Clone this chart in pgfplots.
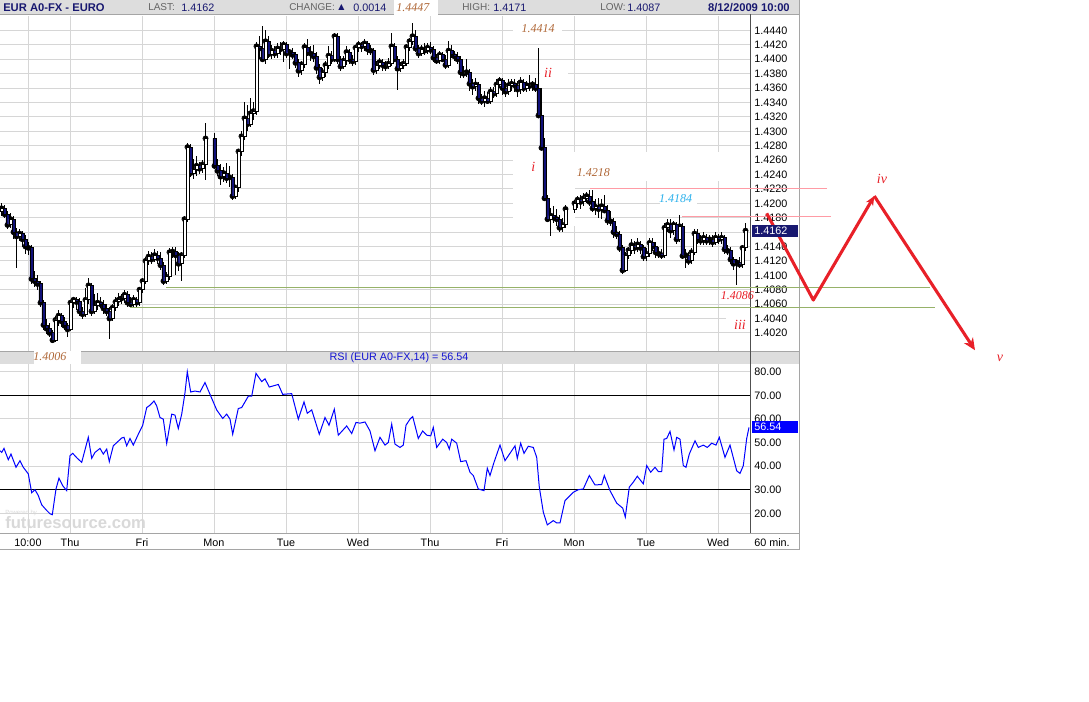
\documentclass[border=0pt]{standalone}
\usepackage{fontspec}
\setmainfont{Liberation Sans}
\newfontfamily\annfont{Liberation Serif}
\newfontfamily\symfont{DejaVu Sans}
\usepackage{pgfplots}
\pgfplotsset{compat=1.18}
\usepackage{pgfplotstable}
\usetikzlibrary{arrows.meta}

\definecolor{gridc}{RGB}{214,214,214}
\definecolor{cnavy}{RGB}{16,16,120}
\definecolor{hnavy}{RGB}{24,24,112}
\definecolor{hgray}{RGB}{100,100,100}
\definecolor{band}{RGB}{221,221,221}
\definecolor{bordc}{RGB}{165,165,165}
\definecolor{axisc}{RGB}{80,80,80}
\definecolor{rsib}{RGB}{0,0,255}
\definecolor{rsitxt}{RGB}{20,20,210}
\definecolor{pinkl}{RGB}{255,155,165}
\definecolor{greenl}{RGB}{150,178,105}
\definecolor{wred}{RGB}{232,32,40}
\definecolor{annb}{RGB}{176,104,56}
\definecolor{annc}{RGB}{40,176,236}

\newcommand{\tf}{\fontsize{8.1}{9.5}\selectfont}
\newcommand{\hf}{\fontsize{7.5}{9}\selectfont}
\newcommand{\af}{\annfont\itshape\fontsize{9}{10}\selectfont}
\newcommand{\rf}{\annfont\itshape\fontsize{10.5}{11}\selectfont}

% hourly EUR/USD candles, x = pixel column of the candle centre
\pgfplotstableread{
x o h l c
1.5 1.4188 1.4200 1.4182 1.4193
4.5 1.4193 1.4198 1.4180 1.4185
7.5 1.4185 1.4190 1.4164 1.4170
10.5 1.4170 1.4186 1.4166 1.4178
13.5 1.4178 1.4182 1.4150 1.4160
16.5 1.4160 1.4166 1.4110 1.4154
19.5 1.4154 1.4164 1.4148 1.4158
22.5 1.4158 1.4162 1.4140 1.4150
25.5 1.4150 1.4156 1.4130 1.4140
28.5 1.4140 1.4146 1.4128 1.4138
31.5 1.4138 1.4142 1.4088 1.4095
34.5 1.4095 1.4106 1.4084 1.4092
37.5 1.4092 1.4100 1.4080 1.4088
40.5 1.4088 1.4092 1.4056 1.4062
43.5 1.4062 1.4066 1.4024 1.4031
46.5 1.4031 1.4040 1.4018 1.4026
49.5 1.4026 1.4034 1.4014 1.4020
52.5 1.4020 1.4024 1.4006 1.4010
55.5 1.4010 1.4044 1.4008 1.4038
58.5 1.4038 1.4052 1.4030 1.4044
61.5 1.4044 1.4048 1.4028 1.4036
64.5 1.4036 1.4042 1.4024 1.4030
67.5 1.4030 1.4034 1.4014 1.4025
70.5 1.4025 1.4066 1.4022 1.4062
73.5 1.4062 1.4070 1.4054 1.4066
76.5 1.4066 1.4070 1.4052 1.4063
79.5 1.4063 1.4068 1.4044 1.4050
82.5 1.4050 1.4056 1.4040 1.4046
85.5 1.4046 1.4082 1.4042 1.4066
88.5 1.4066 1.4096 1.4060 1.4086
91.5 1.4086 1.4090 1.4044 1.4050
94.5 1.4050 1.4074 1.4046 1.4058
97.5 1.4058 1.4076 1.4052 1.4062
100.5 1.4062 1.4070 1.4054 1.4060
103.5 1.4060 1.4066 1.4046 1.4054
106.5 1.4054 1.4060 1.4044 1.4050
109.5 1.4050 1.4056 1.4012 1.4040
112.5 1.4040 1.4060 1.4036 1.4055
115.5 1.4055 1.4070 1.4050 1.4063
118.5 1.4063 1.4076 1.4058 1.4066
121.5 1.4066 1.4074 1.4060 1.4068
124.5 1.4068 1.4080 1.4062 1.4073
127.5 1.4073 1.4078 1.4056 1.4062
130.5 1.4062 1.4070 1.4056 1.4060
133.5 1.4060 1.4072 1.4054 1.4066
136.5 1.4066 1.4070 1.4056 1.4062
139.5 1.4062 1.4084 1.4058 1.4080
142.5 1.4080 1.4096 1.4076 1.4092
145.5 1.4092 1.4126 1.4088 1.4120
148.5 1.4120 1.4134 1.4114 1.4126
151.5 1.4126 1.4132 1.4116 1.4122
154.5 1.4122 1.4136 1.4118 1.4128
157.5 1.4128 1.4134 1.4116 1.4124
160.5 1.4124 1.4132 1.4108 1.4114
163.5 1.4114 1.4118 1.4086 1.4092
166.5 1.4092 1.4104 1.4088 1.4098
169.5 1.4098 1.4138 1.4094 1.4132
172.5 1.4132 1.4140 1.4124 1.4133
175.5 1.4133 1.4140 1.4100 1.4128
178.5 1.4128 1.4132 1.4106 1.4116
181.5 1.4116 1.4132 1.4092 1.4128
184.5 1.4128 1.4182 1.4124 1.4178
187.5 1.4178 1.4284 1.4174 1.4278
190.5 1.4278 1.4282 1.4236 1.4242
193.5 1.4242 1.4262 1.4234 1.4247
196.5 1.4247 1.4266 1.4238 1.4252
199.5 1.4252 1.4258 1.4240 1.4248
202.5 1.4248 1.4260 1.4242 1.4254
205.5 1.4254 1.4311 1.4232 1.4290
214.5 1.4290 1.4298 1.4248 1.4252
217.5 1.4252 1.4262 1.4238 1.4245
220.5 1.4245 1.4254 1.4226 1.4237
223.5 1.4237 1.4250 1.4230 1.4242
226.5 1.4242 1.4256 1.4228 1.4235
229.5 1.4235 1.4252 1.4222 1.4236
232.5 1.4236 1.4240 1.4204 1.4210
235.5 1.4210 1.4226 1.4206 1.4222
238.5 1.4222 1.4276 1.4216 1.4272
241.5 1.4272 1.4300 1.4266 1.4293
244.5 1.4293 1.4340 1.4288 1.4318
247.5 1.4318 1.4336 1.4300 1.4310
250.5 1.4310 1.4346 1.4306 1.4325
253.5 1.4325 1.4340 1.4316 1.4328
256.5 1.4328 1.4424 1.4322 1.4418
259.5 1.4418 1.4432 1.4400 1.4415
262.5 1.4415 1.4446 1.4396 1.4400
265.5 1.4400 1.4440 1.4394 1.4425
268.5 1.4425 1.4432 1.4402 1.4407
271.5 1.4407 1.4420 1.4400 1.4412
274.5 1.4412 1.4418 1.4402 1.4408
277.5 1.4408 1.4422 1.4402 1.4415
280.5 1.4415 1.4424 1.4406 1.4414
283.5 1.4414 1.4426 1.4396 1.4420
286.5 1.4420 1.4424 1.4402 1.4408
289.5 1.4408 1.4414 1.4386 1.4410
292.5 1.4410 1.4416 1.4400 1.4406
295.5 1.4406 1.4410 1.4388 1.4395
298.5 1.4395 1.4400 1.4376 1.4384
301.5 1.4384 1.4398 1.4378 1.4393
304.5 1.4393 1.4422 1.4388 1.4417
307.5 1.4417 1.4428 1.4404 1.4410
310.5 1.4410 1.4418 1.4398 1.4408
313.5 1.4408 1.4420 1.4396 1.4404
316.5 1.4404 1.4410 1.4380 1.4388
319.5 1.4388 1.4394 1.4366 1.4375
322.5 1.4375 1.4388 1.4370 1.4382
325.5 1.4382 1.4398 1.4376 1.4392
328.5 1.4392 1.4418 1.4386 1.4405
331.5 1.4405 1.4412 1.4394 1.4400
334.5 1.4400 1.4436 1.4396 1.4432
337.5 1.4432 1.4436 1.4394 1.4400
340.5 1.4400 1.4404 1.4384 1.4390
343.5 1.4390 1.4404 1.4386 1.4398
346.5 1.4398 1.4418 1.4392 1.4410
349.5 1.4410 1.4414 1.4394 1.4400
352.5 1.4400 1.4406 1.4390 1.4397
355.5 1.4397 1.4420 1.4392 1.4416
358.5 1.4416 1.4426 1.4410 1.4420
361.5 1.4420 1.4424 1.4410 1.4418
364.5 1.4418 1.4428 1.4412 1.4422
367.5 1.4422 1.4426 1.4406 1.4414
370.5 1.4414 1.4420 1.4406 1.4412
373.5 1.4412 1.4416 1.4378 1.4385
376.5 1.4385 1.4398 1.4380 1.4392
379.5 1.4392 1.4402 1.4386 1.4396
382.5 1.4396 1.4400 1.4384 1.4392
385.5 1.4392 1.4398 1.4384 1.4390
388.5 1.4390 1.4402 1.4386 1.4394
391.5 1.4394 1.4436 1.4390 1.4418
394.5 1.4418 1.4422 1.4396 1.4400
397.5 1.4400 1.4404 1.4357 1.4387
400.5 1.4387 1.4396 1.4382 1.4392
403.5 1.4392 1.4400 1.4386 1.4394
406.5 1.4394 1.4420 1.4390 1.4417
409.5 1.4417 1.4430 1.4412 1.4425
412.5 1.4425 1.4451 1.4420 1.4432
415.5 1.4432 1.4440 1.4410 1.4415
418.5 1.4415 1.4420 1.4402 1.4408
421.5 1.4408 1.4420 1.4404 1.4414
424.5 1.4414 1.4422 1.4406 1.4412
427.5 1.4412 1.4422 1.4408 1.4416
430.5 1.4416 1.4424 1.4408 1.4413
433.5 1.4413 1.4418 1.4396 1.4402
436.5 1.4402 1.4408 1.4394 1.4398
439.5 1.4398 1.4412 1.4394 1.4406
442.5 1.4406 1.4410 1.4396 1.4400
445.5 1.4400 1.4406 1.4386 1.4392
448.5 1.4392 1.4426 1.4388 1.4412
451.5 1.4412 1.4420 1.4402 1.4406
454.5 1.4406 1.4412 1.4398 1.4404
457.5 1.4404 1.4410 1.4394 1.4400
460.5 1.4400 1.4404 1.4374 1.4382
463.5 1.4382 1.4390 1.4374 1.4380
466.5 1.4380 1.4400 1.4376 1.4382
469.5 1.4382 1.4386 1.4356 1.4366
472.5 1.4366 1.4372 1.4350 1.4362
475.5 1.4362 1.4374 1.4356 1.4365
478.5 1.4365 1.4368 1.4338 1.4346
481.5 1.4346 1.4352 1.4336 1.4342
484.5 1.4342 1.4356 1.4334 1.4346
487.5 1.4346 1.4354 1.4338 1.4342
490.5 1.4342 1.4362 1.4338 1.4355
493.5 1.4355 1.4362 1.4346 1.4352
496.5 1.4352 1.4372 1.4348 1.4365
499.5 1.4365 1.4376 1.4360 1.4370
502.5 1.4370 1.4374 1.4350 1.4360
505.5 1.4360 1.4368 1.4348 1.4355
508.5 1.4355 1.4372 1.4350 1.4364
511.5 1.4364 1.4372 1.4356 1.4366
514.5 1.4366 1.4372 1.4354 1.4364
517.5 1.4364 1.4370 1.4348 1.4358
520.5 1.4358 1.4376 1.4352 1.4368
523.5 1.4368 1.4372 1.4354 1.4360
526.5 1.4360 1.4370 1.4354 1.4364
529.5 1.4364 1.4378 1.4356 1.4363
532.5 1.4363 1.4370 1.4356 1.4365
535.5 1.4365 1.4374 1.4354 1.4360
538.5 1.4360 1.4416 1.4320 1.4322
541.5 1.4322 1.4360 1.4274 1.4277
544.5 1.4277 1.4290 1.4204 1.4207
547.5 1.4207 1.4212 1.4174 1.4178
550.5 1.4178 1.4194 1.4154 1.4183
553.5 1.4183 1.4196 1.4172 1.4180
556.5 1.4180 1.4192 1.4168 1.4178
559.5 1.4178 1.4184 1.4160 1.4166
562.5 1.4166 1.4180 1.4160 1.4170
565.5 1.4170 1.4198 1.4166 1.4192
574.5 1.4192 1.4204 1.4186 1.4200
577.5 1.4200 1.4210 1.4194 1.4205
580.5 1.4205 1.4212 1.4192 1.4202
583.5 1.4202 1.4214 1.4196 1.4207
586.5 1.4207 1.4216 1.4200 1.4210
589.5 1.4210 1.4218 1.4196 1.4202
592.5 1.4202 1.4218 1.4188 1.4193
595.5 1.4193 1.4206 1.4184 1.4195
598.5 1.4195 1.4208 1.4180 1.4192
601.5 1.4192 1.4206 1.4178 1.4196
604.5 1.4196 1.4212 1.4186 1.4190
607.5 1.4190 1.4198 1.4170 1.4176
610.5 1.4176 1.4190 1.4168 1.4175
613.5 1.4175 1.4180 1.4152 1.4160
616.5 1.4160 1.4168 1.4150 1.4157
619.5 1.4157 1.4162 1.4132 1.4138
622.5 1.4138 1.4142 1.4102 1.4107
625.5 1.4107 1.4132 1.4104 1.4128
628.5 1.4128 1.4140 1.4122 1.4135
631.5 1.4135 1.4150 1.4130 1.4142
634.5 1.4142 1.4148 1.4130 1.4138
637.5 1.4138 1.4152 1.4132 1.4143
640.5 1.4143 1.4148 1.4130 1.4138
643.5 1.4138 1.4142 1.4120 1.4126
646.5 1.4126 1.4138 1.4120 1.4130
649.5 1.4130 1.4152 1.4126 1.4145
652.5 1.4145 1.4152 1.4134 1.4140
655.5 1.4140 1.4146 1.4124 1.4132
658.5 1.4132 1.4140 1.4124 1.4130
661.5 1.4130 1.4136 1.4122 1.4128
664.5 1.4128 1.4172 1.4124 1.4166
667.5 1.4166 1.4178 1.4160 1.4170
670.5 1.4170 1.4178 1.4152 1.4162
673.5 1.4162 1.4176 1.4156 1.4170
676.5 1.4170 1.4174 1.4144 1.4150
679.5 1.4150 1.4184 1.4146 1.4168
682.5 1.4168 1.4172 1.4122 1.4127
685.5 1.4127 1.4136 1.4110 1.4128
688.5 1.4128 1.4132 1.4114 1.4120
691.5 1.4120 1.4138 1.4116 1.4132
694.5 1.4132 1.4164 1.4128 1.4158
697.5 1.4158 1.4164 1.4144 1.4150
700.5 1.4150 1.4156 1.4142 1.4148
703.5 1.4148 1.4160 1.4142 1.4152
706.5 1.4152 1.4158 1.4142 1.4148
709.5 1.4148 1.4156 1.4142 1.4150
712.5 1.4150 1.4156 1.4140 1.4146
715.5 1.4146 1.4160 1.4142 1.4152
718.5 1.4152 1.4158 1.4144 1.4150
721.5 1.4150 1.4160 1.4144 1.4152
724.5 1.4152 1.4156 1.4130 1.4136
727.5 1.4136 1.4142 1.4128 1.4134
730.5 1.4134 1.4140 1.4116 1.4122
733.5 1.4122 1.4126 1.4108 1.4116
736.5 1.4116 1.4122 1.4086 1.4118
739.5 1.4118 1.4126 1.4110 1.4115
742.5 1.4115 1.4142 1.4110 1.4138
745.5 1.4138 1.4172 1.4134 1.4162
}\candles

\pgfplotsset{
  pricebox/.style={at={(0pt,-12pt)}, anchor=north west, scale only axis,
    width=562.5pt, height=251.25pt, xmin=0, xmax=750,
    ymin=1.39949, ymax=1.44601, enlargelimits=false},
  daygrid/.style={xtick={28,70,142,214,286,358,430,502,574,646,718}},
}

\begin{document}
\begin{tikzpicture}
\fill[white] (0pt,0pt) rectangle (816.75pt,-526.5pt);
\useasboundingbox (0pt,0pt) rectangle (816.75pt,-526.5pt);

% header bands and watermark
\begin{scope}[x=0.75pt,y=-0.75pt]
  \fill[band] (0,0) rectangle (800,14);
  \draw[bordc] (0,14.5) -- (800,14.5);
  \fill[band] (0,351.5) rectangle (800,364);
  \draw[bordc] (0,351.5) -- (800,351.5);
  \node[anchor=west, inner sep=0pt, font=\fontsize{4.5}{5}\selectfont, text=gray!30] at (5,513) {Powered by};
  \node[anchor=west, inner sep=0pt, font=\bfseries\fontsize{12.5}{13}\selectfont, text=gray!30] at (5,523) {futuresource.com};
\end{scope}

% price panel: grid and scale
\begin{axis}[pricebox, daygrid, xticklabels={},
  axis line style={draw=none}, major tick length=0pt,
  ytick={1.402,1.404,1.406,1.408,1.410,1.412,1.414,1.416,1.418,1.420,1.422,1.424,1.426,1.428,1.430,1.432,1.434,1.436,1.438,1.440,1.442,1.444},
  scaled y ticks=false,
  grid=major, major grid style={gridc, line width=0.75pt},
  yticklabel pos=right,
  yticklabel style={anchor=west, inner sep=0pt, xshift=3pt, font=\tf,
    /pgf/number format/.cd, fixed, fixed zerofill, precision=4, /tikz/.cd},
  /pgf/number format/assume math mode=true,
]
\addplot[draw=none] coordinates {(0,1.42)};
\end{axis}

% white boxes behind annotations
\begin{scope}[x=0.75pt,y=-0.75pt]
  \fill[white] (513,21) rectangle (562,36);
  \fill[white] (540,65) rectangle (568,81);
  \fill[white] (513,152) rectangle (575,226);
  \fill[white] (575,152) rectangle (750,181);
  \fill[white] (660,191) rectangle (697,206);
  \fill[white] (720,290) rectangle (750,303);
  \fill[white] (726,316) rectangle (750,331);
  \fill[white] (34,351) rectangle (81,378);
  \fill[white] (394,0) rectangle (438,15);
\end{scope}

% wicks
\begin{axis}[pricebox, hide axis]
\addplot[black, only marks, mark=none,
  error bars/.cd, y dir=both, y explicit, error mark=none,
  error bar style={black, line width=0.75pt}]
  table[x=x, y=c, y error plus expr={\thisrow{h}-\thisrow{c}},
        y error minus expr={\thisrow{c}-\thisrow{l}}] {\candles};
\end{axis}

% bodies
\begin{axis}[pricebox, hide axis, ybar stacked, bar width=2.3pt]
\addplot[draw=none, fill=none] table[x=x, y expr={min(\thisrow{o},\thisrow{c})}] {\candles};
\addplot[draw=black, fill=white, line width=0.7pt] table[x=x, y expr={max(\thisrow{c}-\thisrow{o},0)}] {\candles};
\addplot[draw=black, fill=cnavy, line width=0.7pt] table[x=x, y expr={max(\thisrow{o}-\thisrow{c},0)}] {\candles};
\end{axis}

% RSI panel
\begin{axis}[at={(0pt,-273pt)}, anchor=north west, scale only axis,
  width=562.5pt, height=126.75pt, xmin=0, xmax=750, ymin=11.65, ymax=83.26,
  daygrid, xticklabels={10:00,Thu,Fri,Mon,Tue,Wed,Thu,Fri,Mon,Tue,Wed},
  xticklabel style={anchor=base, yshift=-10pt, inner sep=0pt, font=\tf},
  axis line style={draw=none}, major tick length=0pt,
  ytick={20,30,40,50,60,70,80}, scaled y ticks=false,
  grid=major, major grid style={gridc, line width=0.75pt},
  yticklabel pos=right,
  yticklabel style={anchor=west, inner sep=0pt, xshift=3pt, font=\tf,
    /pgf/number format/.cd, fixed, fixed zerofill, precision=2, /tikz/.cd},
  /pgf/number format/assume math mode=true,
]
\addplot[black, line width=0.75pt] coordinates {(0,70) (750,70)};
\addplot[black, line width=0.75pt] coordinates {(0,30) (750,30)};
\addplot[rsib, line width=0.75pt] coordinates {
(0,46.5) (1.7,45.8) (4,47.5) (8.3,42.7) (11,45.1) (16,39.5) (20,42.3) (23.3,39.5)
(28.3,36.7) (31.7,28.7) (35,30.0) (38.3,27.5) (41.7,23.6) (46.7,21.2) (50,19.8)
(52.3,19.4) (56,30.3) (59,34.9) (62.7,31.7) (66.7,29.6) (70,44.4) (72.7,45.4)
(77.3,43.3) (81.7,41.6) (88.3,52.2) (91.7,43.3) (95,45.8) (100,47.5) (103.3,45.1)
(106.7,47.2) (109.3,41.9) (113.3,48.6) (121.7,51.9) (124,52.2) (126.7,48.6)
(130,51.7) (133.3,48.9) (138.3,53.5) (142.7,57.3) (146.7,64.8) (150,65.8)
(154,67.6) (156.7,65.5) (160,60.6) (163.3,59.9) (166.7,49.6) (171.7,62.0)
(175,61.6) (178.3,55.9) (181.7,62.0) (185,71.1) (187.3,80.0) (190.7,71.4)
(195,71.8) (200,71.4) (205,75.4) (210,70.4) (216.7,63.8) (222.7,60.2) (226.7,62.0)
(230,59.9) (232.7,53.5) (238.3,64.4) (241.7,64.8) (248.3,69.6) (251.7,69.6)
(256,79.3) (261.7,75.8) (265,77.0) (269.3,73.5) (278.3,74.6) (282.7,70.4)
(291.7,70.7) (298.3,59.9) (304,67.2) (307.3,62.4) (311.7,63.8) (319.3,53.5)
(325,60.6) (329,57.3) (334.3,64.1) (338.3,53.1) (346.7,57.0) (351.7,53.8)
(356,58.5) (360,58.2) (365,58.7) (370,54.9) (375,46.5) (380,52.2) (385,48.9)
(388.3,50.0) (391.7,57.8) (395,49.3) (400,47.9) (403.3,48.9) (406,57.3)
(410,59.9) (412.7,61.0) (418.3,51.7) (422.7,54.9) (426.7,53.1) (430.7,52.8)
(433.3,56.4) (436.7,47.9) (442.7,51.4) (446.7,50.0) (449.3,47.2) (451.7,51.4)
(456.7,49.7) (460.7,41.9) (466,42.3) (470,37.4) (473.3,36.0) (478.3,30.3)
(484,29.6) (487.3,39.1) (490,36.0) (494,41.6) (500,48.9) (505,42.3) (511.7,46.5)
(515,48.6) (517.3,43.3) (520.7,49.7) (524,45.4) (528.3,48.4) (533.3,47.9)
(536.7,43.7) (539.3,31.1) (543.3,20.5) (547.3,15.1) (553.3,16.9) (556.7,15.9)
(560,15.9) (565,25.4) (573.3,28.9) (578.3,30.0) (583.3,30.3) (589.3,36.0)
(595,32.0) (601.7,32.2) (604.3,36.0) (610,29.6) (616.7,24.3) (622.7,22.2)
(625.3,18.4) (629.3,31.1) (633.3,33.2) (637.3,35.7) (643.3,32.5) (646.7,40.2)
(650.7,37.4) (655,39.5) (658.3,37.7) (661.7,37.7) (664,51.4) (666.7,51.7)
(670,54.7) (674,46.8) (676.7,52.2) (680,51.4) (683.3,40.2) (686,39.5) (689.3,45.1)
(695,50.7) (698.3,47.9) (703.3,48.9) (707.3,47.9) (711.7,49.7) (716,48.9)
(719.3,52.2) (725,43.7) (730,48.9) (736.7,38.0) (740,36.9) (743.3,40.2)
(746.7,51.7) (749,56.4)
};
\end{axis}

% frame lines
\begin{scope}[x=0.75pt,y=-0.75pt]
  \draw[bordc, line width=0.75pt] (0,533) -- (800,533);
  \draw[bordc, line width=0.75pt] (0,549.5) -- (800,549.5);
  \draw[bordc, line width=0.75pt] (799.5,0) -- (799.5,549.5);
  \draw[axisc, line width=0.75pt] (750.5,14.5) -- (750.5,533);
\end{scope}

% wave annotation lines, in price units
\begin{axis}[at={(0pt,-12pt)}, anchor=north west, scale only axis,
  width=816.75pt, height=251.25pt, xmin=0, xmax=1089,
  ymin=1.39949, ymax=1.44601, hide axis, clip=false]
\addplot[pinkl, line width=0.75pt] coordinates {(590,1.42208) (827,1.42208)};
\addplot[pinkl, line width=0.75pt] coordinates {(682,1.41810) (831,1.41810)};
\addplot[greenl, line width=0.9pt] coordinates {(166,1.40833) (930,1.40833)};
\addplot[greenl, line width=0.9pt] coordinates {(130,1.40556) (935,1.40556)};
\addplot[wred, line width=2.3pt, line join=round, -{Stealth[length=7pt,width=6pt]}]
  coordinates {(766.7,1.41861) (813.3,1.40657) (874.3,1.42101)};
\addplot[wred, line width=2.3pt, -{Stealth[length=9pt,width=8pt]}]
  coordinates {(874.3,1.42101) (975,1.39960)};
\end{axis}

% texts
\begin{scope}[x=0.75pt,y=-0.75pt, every node/.style={inner sep=0pt}]
  \node[anchor=west, font=\bfseries\fontsize{8.4}{9}\selectfont, text=hnavy] at (3,7.5) {EUR A0-FX - EURO};
  \node[anchor=west, font=\hf, text=hgray] at (148,7.5) {LAST:};
  \node[anchor=west, font=\tf, text=hnavy] at (181,7.5) {1.4162};
  \node[anchor=west, font=\hf, text=hgray] at (289,7.5) {CHANGE:};
  \node[anchor=west, font=\symfont\fontsize{6}{7}\selectfont, text=hnavy] at (338,7) {▲};
  \node[anchor=west, font=\tf, text=hnavy] at (353,7.5) {0.0014};
  \node[anchor=west, font=\af, text=annb] at (396,8) {1.4447};
  \node[anchor=west, font=\hf, text=hgray] at (462,7.5) {HIGH:};
  \node[anchor=west, font=\tf, text=hnavy] at (493,7.5) {1.4171};
  \node[anchor=west, font=\hf, text=hgray] at (600,7.5) {LOW:};
  \node[anchor=west, font=\tf, text=hnavy] at (627,7.5) {1.4087};
  \node[anchor=east, font=\bfseries\fontsize{8.4}{9}\selectfont, text=hnavy] at (790,7.5) {8/12/2009 10:00};

  \node[font=\tf, text=rsitxt] at (399,358) {RSI (EUR A0-FX,14) = 56.54};
  \node[anchor=base west, font=\tf] at (754,546.3) {60 min.};

  \fill[hnavy] (752,225) rectangle (798,237);
  \node[anchor=west, font=\tf, text=white] at (754,231) {1.4162};
  \fill[rsib] (752,421) rectangle (798,433);
  \node[anchor=west, font=\tf, text=white] at (754,427) {56.54};

  \node[font=\af, text=annb] at (538,28.3) {1.4414};
  \node[font=\rf, text=wred] at (548,73.3) {ii};
  \node[font=\rf, text=wred] at (533.3,167.3) {i};
  \node[font=\af, text=annb] at (593.3,172.3) {1.4218};
  \node[font=\af, text=annc] at (675.5,198.3) {1.4184};
  \node[font=\af, text=wred] at (737.3,296) {1.4086};
  \node[font=\rf, text=wred] at (740,325) {iii};
  \node[font=\af, text=annb] at (50,356.7) {1.4006};
  \node[font=\rf, text=wred] at (882,179) {iv};
  \node[font=\rf, text=wred] at (1000,358) {v};
\end{scope}
\end{tikzpicture}
\end{document}
